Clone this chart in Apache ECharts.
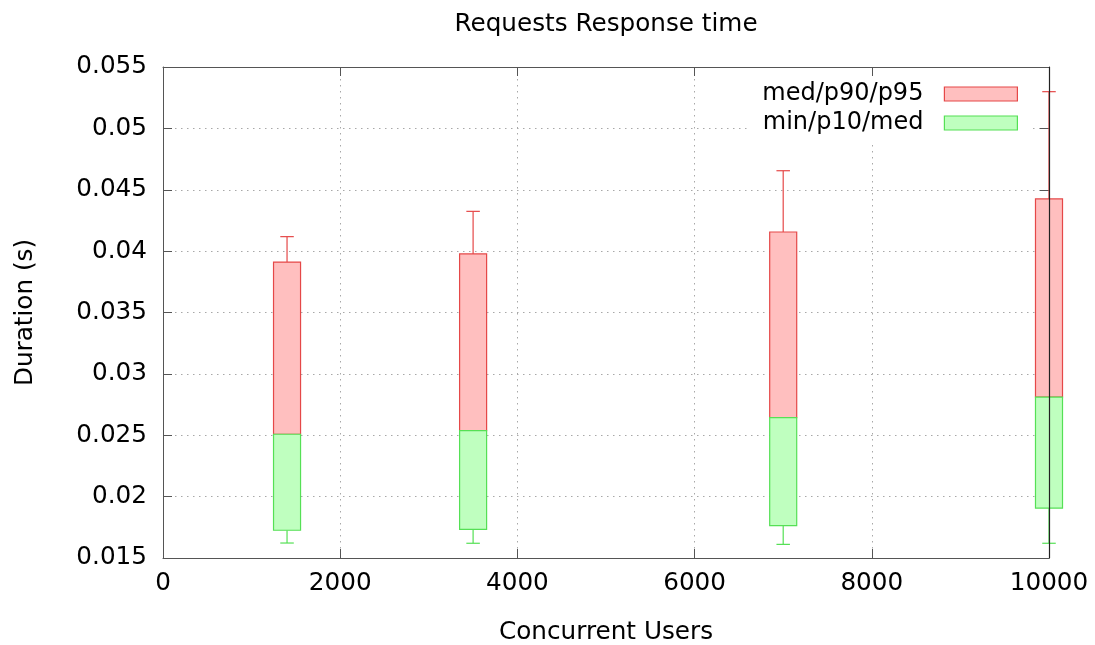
<!DOCTYPE html>
<html>
<head>
<meta charset="utf-8">
<script src="https://cdn.jsdelivr.net/npm/echarts@6/dist/echarts.min.js"></script>
<style>
html,body{margin:0;padding:0;background:#fff;}
#chart{width:1095px;height:645px;}
</style>
</head>
<body>
<div id="chart"></div>
<script>
// ---- data ----
const users = [1400, 3500, 7000, 10000];
const minV  = [0.01622, 0.01620, 0.01611, 0.01620];
const p10V  = [0.01726, 0.01733, 0.01763, 0.01907];
const medV  = [0.02508, 0.02537, 0.02643, 0.02811];
const p90V  = [0.03911, 0.03977, 0.04156, 0.04425];
const p95V  = [0.04118, 0.04324, 0.04655, 0.05299];

const seriesNames = ['med/p90/p95', 'min/p10/med'];
const titleText = 'Requests Response time';
const xName = 'Concurrent Users';
const yName = 'Duration (s)';
const xMin = 0, xMax = 10000, xStep = 2000;
const yMin = 0.015, yMax = 0.055, yStep = 0.005;

// [x, whiskerLow, boxLow, boxHigh, whiskerHigh]
const upperData = users.map((u, i) => [u, medV[i], medV[i], p90V[i], p95V[i]]);
const lowerData = users.map((u, i) => [u, minV[i], p10V[i], medV[i], medV[i]]);

const FONT = 'DejaVu Sans';
const FS = 24.7;
const BOX_W = 305; // box width in data units
const RED_FILL = '#ffbfbf', RED_LINE = '#e54848';
const GREEN_FILL = '#bfffbf', GREEN_LINE = '#55e055';

function makeRender(fill, stroke) {
  return function (params, api) {
    const x = api.value(0);
    const lo = api.value(1), bl = api.value(2), bh = api.value(3), hi = api.value(4);
    const half = api.size([BOX_W, 0])[0] / 2;
    const pLo = api.coord([x, lo]), pBl = api.coord([x, bl]);
    const pBh = api.coord([x, bh]), pHi = api.coord([x, hi]);
    const cx = pLo[0];
    const children = [];
    const ls = { stroke: stroke, lineWidth: 1.2 };
    if (hi > bh) {
      children.push({ type: 'line', shape: { x1: cx, y1: pBh[1], x2: cx, y2: pHi[1] }, style: ls });
      children.push({ type: 'line', shape: { x1: cx - half / 2, y1: pHi[1], x2: cx + half / 2, y2: pHi[1] }, style: ls });
    }
    if (lo < bl) {
      children.push({ type: 'line', shape: { x1: cx, y1: pBl[1], x2: cx, y2: pLo[1] }, style: ls });
      children.push({ type: 'line', shape: { x1: cx - half / 2, y1: pLo[1], x2: cx + half / 2, y2: pLo[1] }, style: ls });
    }
    children.push({
      type: 'rect',
      shape: { x: cx - half, y: pBh[1], width: half * 2, height: pBl[1] - pBh[1] },
      style: { fill: fill, stroke: stroke, lineWidth: 1.2 }
    });
    return { type: 'group', children: children };
  };
}

const frameColor = '#555';
const gridLine = { show: true, lineStyle: { color: '#a8a8a8', width: 1, type: [1.5, 4.5] } };
const labelStyle = { fontSize: FS, color: '#000', fontFamily: FONT };

const chart = echarts.init(document.getElementById('chart'), null, { renderer: 'canvas' });
chart.setOption({
  animation: false,
  backgroundColor: '#fff',
  textStyle: { fontFamily: FONT },
  title: {
    text: titleText,
    left: 606, top: 12, padding: 0,
    textAlign: 'center',
    textStyle: { fontSize: FS, fontWeight: 'normal', color: '#000', fontFamily: FONT }
  },
  legend: {
    orient: 'vertical',
    right: 65, top: 79,
    padding: [2, 12, 6, 12],
    align: 'right',
    backgroundColor: '#fff',
    itemWidth: 73, itemHeight: 14, itemGap: 3,
    icon: 'rect',
    textStyle: { fontSize: 24, color: '#000', fontFamily: FONT, lineHeight: 26, padding: [0, 16, 0, 0] },
    data: [
      { name: seriesNames[0], itemStyle: { color: RED_FILL, borderColor: RED_LINE, borderWidth: 1.2 } },
      { name: seriesNames[1], itemStyle: { color: GREEN_FILL, borderColor: GREEN_LINE, borderWidth: 1.2 } }
    ]
  },
  grid: { left: 163, right: 46, top: 67, bottom: 87, containLabel: false, outerBoundsMode: 'none' },
  xAxis: [
    {
      type: 'value', min: xMin, max: xMax, interval: xStep, position: 'bottom',
      axisLine: { show: true, onZero: false, lineStyle: { color: frameColor, width: 1 } },
      axisTick: { show: true, inside: true, length: 9, lineStyle: { color: frameColor } },
      axisLabel: Object.assign({ margin: 13, formatter: v => String(v) }, labelStyle),
      splitLine: gridLine,
      name: xName, nameLocation: 'middle', nameGap: 62,
      nameTextStyle: labelStyle
    },
    {
      type: 'value', min: xMin, max: xMax, interval: xStep, position: 'top',
      axisLine: { show: true, onZero: false, lineStyle: { color: frameColor, width: 1 } },
      axisTick: { show: true, inside: true, length: 9, lineStyle: { color: frameColor } },
      axisLabel: { show: false }, splitLine: { show: false }
    }
  ],
  yAxis: [
    {
      type: 'value', min: yMin, max: yMax, interval: yStep, position: 'left',
      axisLine: { show: true, onZero: false, lineStyle: { color: frameColor, width: 1 } },
      axisTick: { show: true, inside: true, length: 9, lineStyle: { color: frameColor } },
      axisLabel: Object.assign({ margin: 16, padding: [5, 0, 0, 0] }, labelStyle),
      splitLine: gridLine,
      name: yName, nameLocation: 'middle', nameGap: 125,
      nameTextStyle: labelStyle
    },
    {
      type: 'value', min: yMin, max: yMax, interval: yStep, position: 'right', z: 5,
      axisLine: { show: true, onZero: false, lineStyle: { color: '#222', width: 1.2 } },
      axisTick: { show: false }, axisLabel: { show: false }, splitLine: { show: false }
    },
    {
      type: 'value', min: yMin, max: yMax, interval: yStep, position: 'right', z: 0,
      axisLine: { show: false, onZero: false },
      axisTick: { show: true, inside: true, length: 9, lineStyle: { color: frameColor } },
      axisLabel: { show: false }, splitLine: { show: false }
    }
  ],
  series: [
    {
      name: seriesNames[0], type: 'custom', clip: false, z: 1,
      itemStyle: { color: RED_FILL },
      encode: { x: 0, y: [1, 2, 3, 4] },
      renderItem: makeRender(RED_FILL, RED_LINE),
      data: upperData
    },
    {
      name: seriesNames[1], type: 'custom', clip: false, z: 1,
      itemStyle: { color: GREEN_FILL },
      encode: { x: 0, y: [1, 2, 3, 4] },
      renderItem: makeRender(GREEN_FILL, GREEN_LINE),
      data: lowerData
    }
  ]
});
</script>
</body>
</html>
